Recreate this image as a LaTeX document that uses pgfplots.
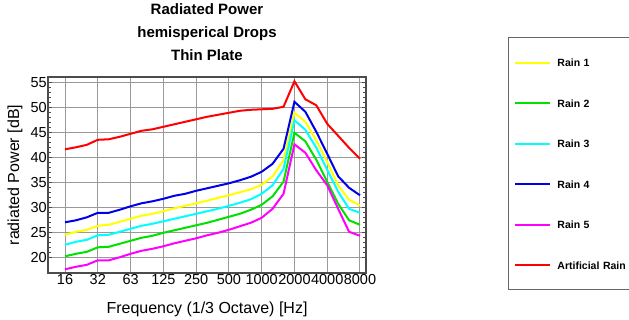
\documentclass[border=0pt]{standalone}
\usepackage{fontspec}
\setmainfont{Liberation Sans}
\usepackage{pgfplots}
\usepackage{pgfplotstable}
\pgfplotsset{compat=1.18}
\definecolor{cYel}{RGB}{255,255,0}
\definecolor{cGrn}{RGB}{0,225,0}
\definecolor{cCyn}{RGB}{0,255,255}
\definecolor{cBlu}{RGB}{0,0,235}
\definecolor{cMag}{RGB}{255,0,255}
\definecolor{cRed}{RGB}{255,0,0}
\pgfplotstableread{
i  r1   r2   r3   r4   r5   art
0  24.5 20.2 22.5 27.0 17.6 41.6
1  25.1 20.7 23.1 27.4 18.1 42.0
2  25.5 21.1 23.5 28.0 18.5 42.5
3  26.3 22.0 24.4 28.9 19.4 43.5
4  26.5 22.1 24.5 28.9 19.4 43.6
5  27.1 22.7 25.1 29.5 20.0 44.1
6  27.7 23.3 25.7 30.2 20.7 44.7
7  28.3 23.9 26.3 30.8 21.3 45.3
8  28.7 24.3 26.7 31.2 21.7 45.6
9  29.2 24.9 27.2 31.7 22.2 46.1
10 29.8 25.4 27.7 32.3 22.8 46.6
11 30.3 25.9 28.2 32.7 23.3 47.1
12 30.8 26.4 28.7 33.3 23.8 47.6
13 31.3 26.9 29.2 33.8 24.4 48.1
14 31.9 27.5 29.7 34.3 24.9 48.5
15 32.4 28.1 30.3 34.8 25.5 48.9
16 33.0 28.7 30.9 35.4 26.2 49.3
17 33.6 29.5 31.6 36.1 26.9 49.5
18 34.5 30.5 32.7 37.1 27.9 49.6
19 36.2 32.2 34.4 38.7 29.7 49.7
20 39.4 35.1 37.7 41.7 32.7 50.1
21 48.9 44.9 47.4 51.1 42.6 55.2
22 47.1 43.2 45.5 49.1 40.9 51.6
23 43.4 39.5 41.9 45.1 37.4 50.4
24 39.1 35.1 37.5 40.7 34.4 46.7
25 34.4 30.7 33.1 36.2 29.7 44.3
26 31.5 27.4 29.7 33.9 25.1 41.9
27 30.4 26.5 28.9 32.4 24.3 39.7
}\datatable
\begin{document}
\begin{tikzpicture}
\useasboundingbox (0,0) rectangle (629pt,320pt);
\begin{axis}[
  at={(48pt,47pt)}, anchor=south west,
  scale only axis, width=318pt, height=196pt,
  xmin=-1.56, xmax=27.55, ymin=16.86, ymax=56.06,
  xtick={0,3,...,27},
  xticklabels={16,32,63,125,250,500,1000,2000,4000,8000},
  ytick={20,25,...,55},
  minor y tick num=4,
  tick align=inside,
  major tick length=4pt, minor tick length=3pt,
  xtick style={draw=none},
  ytick style={black!70, line width=0.8pt},
  grid=major,
  major grid style={black!40, line width=1pt},
  axis line style={black!70, line width=1.3pt},
  /pgf/number format/assume math mode=true,
  ticklabel style={font=\fontsize{14.5}{17}\selectfont},
  xticklabel style={inner sep=1pt},
  yticklabel style={inner sep=1pt},
  label style={font=\fontsize{16}{19}\selectfont},
  xlabel={Frequency (1/3 Octave) [Hz]},
  ylabel={radiated Power [dB]},
  xlabel style={at={(axis description cs:0.5,-0.186)}, anchor=center},
  ylabel style={at={(axis description cs:-0.104,0.5)}, anchor=center},
  title={Radiated Power\\hemisperical Drops\\Thin Plate},
  title style={at={(axis description cs:0.5,1.199)}, anchor=center, align=center,
    font=\bfseries\fontsize{15}{23}\selectfont},
  legend style={at={(axis description cs:1.4465,1.204)}, anchor=north west,
    draw=black!60, line width=1pt,
    font=\bfseries\fontsize{10.5}{12}\selectfont,
    inner xsep=6pt, inner ysep=20pt, row sep=31.5pt, column sep=6pt,
    nodes={inner sep=0pt, text height=9pt, text depth=0pt, text width=80pt, align=left}},
  legend cell align=left,
  legend image code/.code={\draw[#1, line width=2pt] (0pt,-0.5pt) -- (35pt,-0.5pt);},
  every axis plot/.append style={line width=2pt},
]
\addplot[cYel] table[x=i,y=r1]{\datatable};
\addlegendentry{Rain 1}
\addplot[cGrn] table[x=i,y=r2]{\datatable};
\addlegendentry{Rain 2}
\addplot[cCyn] table[x=i,y=r3]{\datatable};
\addlegendentry{Rain 3}
\addplot[cBlu] table[x=i,y=r4]{\datatable};
\addlegendentry{Rain 4}
\addplot[cMag] table[x=i,y=r5]{\datatable};
\addlegendentry{Rain 5}
\addplot[cRed] table[x=i,y=art]{\datatable};
\addlegendentry{Artificial Rain}
\end{axis}
\end{tikzpicture}
\end{document}
